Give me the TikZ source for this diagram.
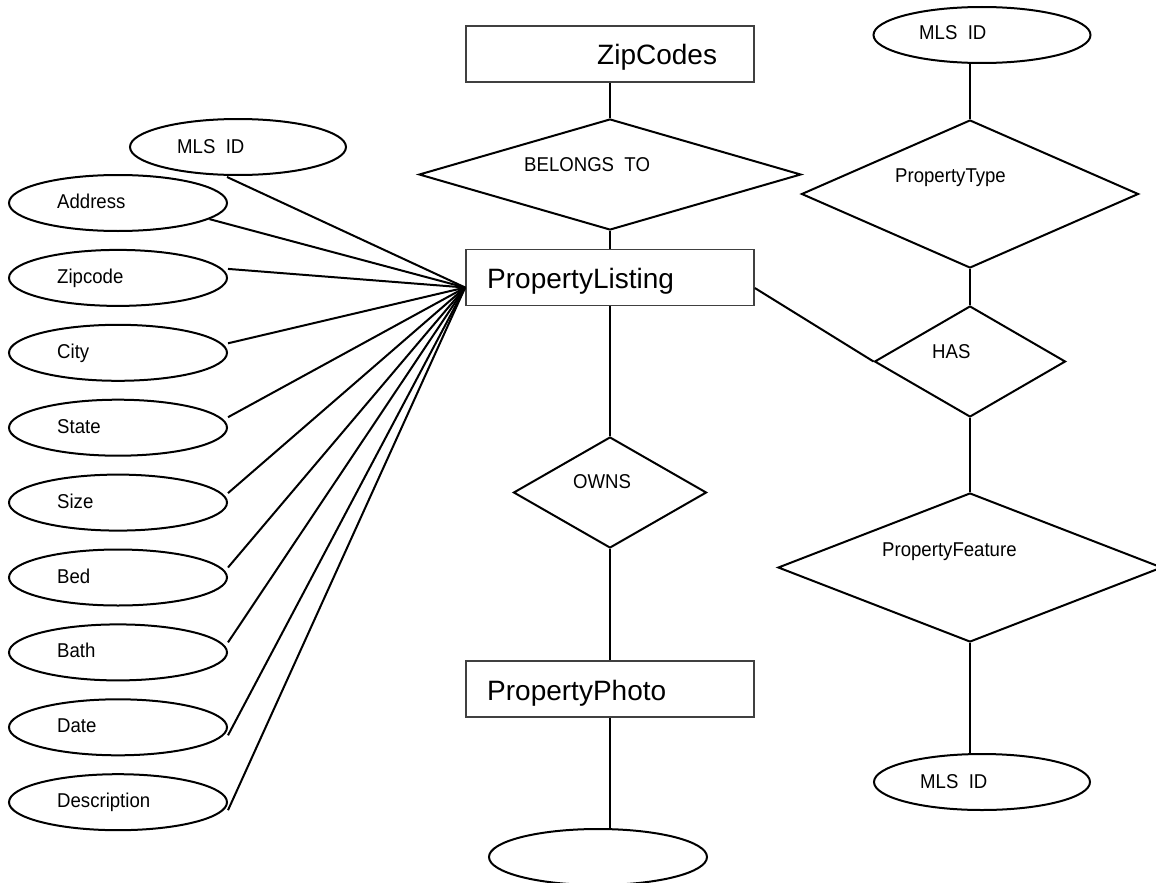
\documentclass[tikz,border=0pt]{standalone}
\usepackage{fontspec}
\setmainfont{Liberation Sans}
\newfontfamily\attrfont[FakeStretch=0.93]{Liberation Sans}
\usetikzlibrary{shapes.geometric,calc}
\tikzset{
  conn/.style={line width=2pt, draw=black},
  entity/.style={rectangle, draw=black!75, line width=1.6pt, minimum width=288pt, minimum height=56pt, inner sep=0pt},
  rel/.style={diamond, draw=black, line width=2pt, inner sep=0pt},
  attr/.style={ellipse, draw=black, line width=2pt, minimum width=218pt, minimum height=56pt, inner sep=0pt},
  big/.style={font=\fontsize{28}{32}\selectfont, inner sep=0pt, anchor=base west},
  lbl/.style={font=\attrfont\fontsize{20}{23}\selectfont, inner sep=0pt, anchor=base west},
}
\begin{document}
\begin{tikzpicture}[x=1pt,y=-1pt]
\useasboundingbox[fill=white] (0,0) rectangle (1156,883);

% entities
\node[entity] (zip) at (610,54) {};
\node[big] (zip-t) at (597,64) {ZipCodes};
\node[entity] (pl) at (610,277.5) {};
\node[big] (pl-t) at (487,288) {PropertyListing};
\node[entity] (pp) at (610,689) {};
\node[big] (pp-t) at (487,700) {PropertyPhoto};

% relationships
\node[rel, minimum width=382pt, minimum height=111pt] (belongs) at (610,174.5) {};
\node[lbl] (belongs-t) at (524,171) {BELONGS\ \ TO};
\node[rel, minimum width=193pt, minimum height=111pt] (owns) at (610,492.5) {};
\node[lbl] (owns-t) at (573,488) {OWNS};
\node[rel, minimum width=337pt, minimum height=148pt] (ptype) at (970,194) {};
\node[lbl] (ptype-t) at (895,182) {PropertyType};
\node[rel, minimum width=191pt, minimum height=111pt] (has) at (970,361.5) {};
\node[lbl] (has-t) at (932,358) {HAS};
\node[rel, minimum width=384pt, minimum height=149pt] (pfeat) at (970,567.5) {};
\node[lbl] (pfeat-t) at (882,556) {PropertyFeature};

% attributes
\node[attr, minimum width=216pt] (mlsL) at (238,147) {};
\node[lbl] (mlsL-t) at (177,153) {MLS\ \ ID};
\node[attr, minimum width=217pt] (mlsR) at (982,35) {};
\node[lbl] (mlsR-t) at (919,40) {MLS\ \ ID};
\node[attr, minimum width=216pt] (mlsB) at (982,782) {};
\node[lbl] (mlsB-t) at (920,788) {MLS\ \ ID};
\node[attr] (photoattr) at (598,857) {};

\foreach \n/\t [count=\i from 0] in {addr/Address, zipc/Zipcode, city/City, state/State, size/Size, bed/Bed, bath/Bath, date/Date, desc/Description} {
  \node[attr] (\n) at (118,203+74.9*\i) {};
  \node[lbl] (\n-t) at ($(\n.center)+(-61,5.5)$) {\t};
}

% connectors
\draw[conn] (zip.south) -- (belongs.north);
\draw[conn] (belongs.south) -- (pl.north);
\draw[conn] (pl.south) -- (owns.north);
\draw[conn] (owns.south) -- (pp.north);
\draw[conn] (pp.south) -- (pp.south |- photoattr.north);
\draw[conn] (ptype.north |- mlsR.south) -- (ptype.north);
\draw[conn] (ptype.south) -- (has.north);
\draw[conn] ($(pl.east)+(0,10.5)$) -- (has.west);
\draw[conn] (has.south) -- (pfeat.north);
\draw[conn] (pfeat.south) -- (pfeat.south |- mlsB.north);

\coordinate (hub) at ($(pl.west)+(0,10)$);
\draw[conn] ($(mlsL.south)+(-11,1)$) -- (hub);
\draw[conn] (addr.-10) -- (hub);
\foreach \n/\dy in {zipc/-9, city/-9.5, state/-10.5, size/-9.5, bed/-10, bath/-10, date/8, desc/8} {
  \draw[conn] ($(\n.east)+(0,\dy)$) -- (hub);
}
\end{tikzpicture}
\end{document}
